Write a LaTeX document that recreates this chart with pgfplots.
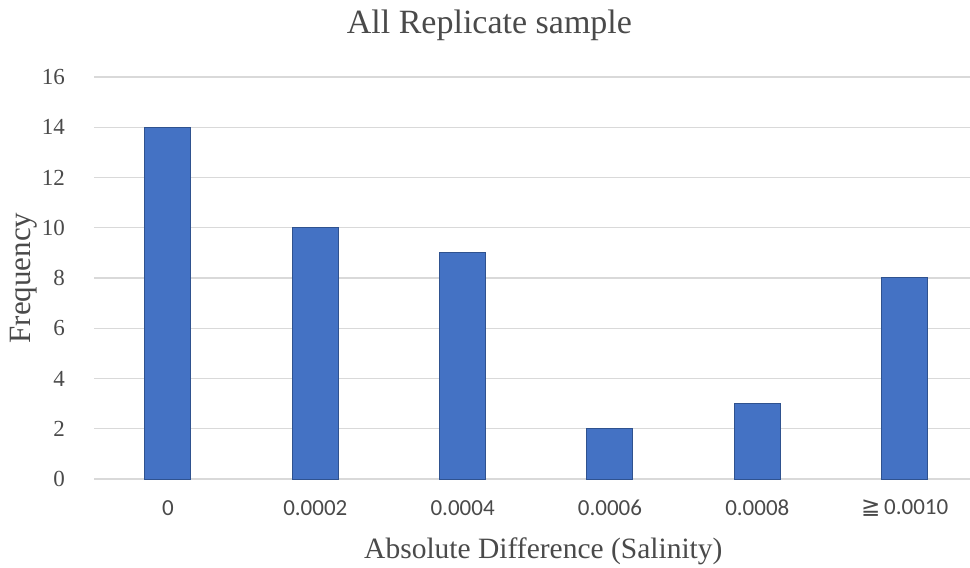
\documentclass[border=0pt]{standalone}
\usepackage{fontspec}
\setmainfont{Liberation Serif}
\newfontfamily\calibri{Carlito}
\newfontfamily\dejavu{DejaVu Sans}
\usepackage{pgfplots}
\pgfplotsset{compat=1.18}
\definecolor{barblue}{HTML}{4472C4}
\definecolor{baredge}{HTML}{2F528F}
\definecolor{txt}{HTML}{4A4A4A}
\definecolor{gridc}{HTML}{D9D9D9}
\begin{document}
\begin{tikzpicture}[x=1pt,y=1pt]
\path[use as bounding box] (0,0) rectangle (970,568);
\begin{axis}[
  at={(94.3pt,89pt)}, anchor=south west,
  scale only axis, width=884pt, height=402pt,
  xmin=-0.5, xmax=5.5, ymin=0, ymax=16,
  ytick={0,2,...,16},
  xtick={0,...,5},
  xticklabels={0,0.0002,0.0004,0.0006,0.0008,{{\dejavu ≧}\,0.0010}},
  axis line style={draw=none},
  ymajorgrids, grid style={gridc, line width=1.2pt},
  major tick length=0pt,
  tick label style={text=txt},
  yticklabel style={font=\fontsize{23}{23}\selectfont, xshift=-26pt},
  xticklabel style={font=\calibri\fontsize{23}{23}\selectfont, anchor=center, yshift=-29pt},
  /pgf/number format/assume math mode=true,
  title={All Replicate sample},
  title style={font=\fontsize{34}{34}\selectfont, text=txt, at={(axis description cs:0.447,1.114)}, anchor=center},
  xlabel={Absolute Difference (Salinity)},
  xlabel style={font=\fontsize{29.5}{29.5}\selectfont, text=txt, at={(axis description cs:0.508,-0.18)}, anchor=center},
  ylabel={Frequency},
  ylabel style={font=\fontsize{31}{31}\selectfont, text=txt, at={(axis description cs:-0.08,0.5)}, anchor=center},
]
\addplot[ybar, bar width=46pt, fill=barblue, draw=baredge, line width=1pt]
  coordinates {(0,14) (1,10) (2,9) (3,2) (4,3) (5,8)};
\end{axis}
\end{tikzpicture}
\end{document}
